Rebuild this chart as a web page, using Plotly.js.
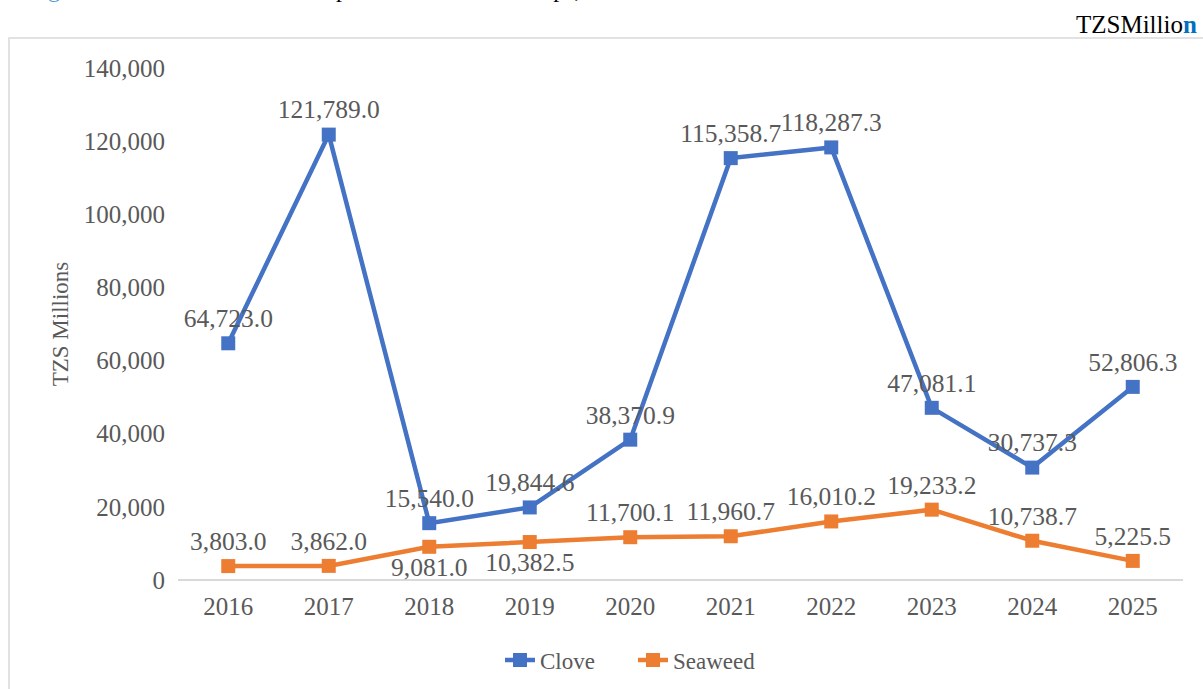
<!DOCTYPE html>
<html>
<head>
<meta charset="utf-8">
<script src="https://cdn.plot.ly/plotly-3.0.1.min.js"></script>
<style>html,body{margin:0;padding:0;background:#fff;}#chart{width:1203px;height:689px;}</style>
</head>
<body>
<div id="chart"></div>
<script>
const years = ['2016','2017','2018','2019','2020','2021','2022','2023','2024','2025'];
const clove = [64723.0, 121789.0, 15540.0, 19844.6, 38370.9, 115358.7, 118287.3, 47081.1, 30737.3, 52806.3];
const seaweed = [3803.0, 3862.0, 9081.0, 10382.5, 11700.1, 11960.7, 16010.2, 19233.2, 10738.7, 5225.5];
const clovePos = ['top center','top center','top center','top center','top center','top center','top center','top center','top center','top center'];
const seaweedPos = ['top center','top center','bottom center','bottom center','top center','top center','top center','top center','top center','top center'];

const fmt = v => v.toLocaleString('en-US', {minimumFractionDigits:1, maximumFractionDigits:1});
const F = 'Liberation Serif, Times New Roman, serif';
const grey = '#595959';

const traces = [
  {x: years, y: clove, name: 'Clove', type: 'scatter', mode: 'lines+markers+text',
   line: {color: '#4472C4', width: 4.5}, marker: {symbol: 'square', size: 14, color: '#4472C4'},
   text: clove.map(fmt), textposition: clovePos, textfont: {family: F, size: 25.5, color: grey}, cliponaxis: false},
  {x: years, y: seaweed, name: 'Seaweed', type: 'scatter', mode: 'lines+markers+text',
   line: {color: '#ED7D31', width: 4.5}, marker: {symbol: 'square', size: 14, color: '#ED7D31'},
   text: seaweed.map(fmt), textposition: seaweedPos, textfont: {family: F, size: 25.5, color: grey}, cliponaxis: false}
];

const layout = {
  width: 1203, height: 689,
  margin: {l: 178, r: 20, t: 68, b: 109, autoexpand: false},
  paper_bgcolor: '#fff', plot_bgcolor: '#fff',
  font: {family: F, color: grey},
  showlegend: true,
  legend: {orientation: 'h', x: (633-178)/1005, xanchor: 'center', y: (580-660)/512, yanchor: 'middle',
           entrywidth: 88, font: {family: F, size: 23, color: grey}},
  xaxis: {type: 'category', range: [-0.5, 9.5], showgrid: false, zeroline: false, showline: false, automargin: false,
          ticks: '', ticklabelstandoff: 9, tickfont: {family: F, size: 25, color: grey}},
  yaxis: {range: [0, 140000], dtick: 20000, tickformat: ',d', showgrid: false, automargin: false,
          zeroline: true, zerolinecolor: '#d9d9d9', zerolinewidth: 1.5, showline: false,
          ticks: '', ticklabelstandoff: 12, tickfont: {family: F, size: 25, color: grey},
          title: {text: 'TZS Millions', font: {family: F, size: 23, color: grey}, standoff: 8}},
  shapes: [
    {type: 'rect', xref: 'paper', yref: 'paper', x0: (9-178)/1005, x1: (1215-178)/1005,
     y0: (580-700)/512, y1: (580-38)/512, line: {color: '#d9d9d9', width: 1.5}, fillcolor: 'rgba(0,0,0,0)', layer: 'below'}
  ],
  annotations: [
    {xref: 'paper', yref: 'paper', x: (1074-178)/1005, y: (580-24)/512, xanchor: 'left', yanchor: 'middle',
     text: 'TZSMillio<b><span style="color:#0070C0">n</span></b>', showarrow: false,
     font: {family: F, size: 25, color: '#000'}},
    {xref: 'paper', yref: 'paper', x: (26-178)/1005, y: (580+11)/512, xanchor: 'left', yanchor: 'middle',
     text: 'Figure 4.3.5:', showarrow: false,
     font: {family: F, size: 24, color: '#5B9BD5'}},
    {xref: 'paper', yref: 'paper', x: (180-178)/1005, y: (580+11)/512, xanchor: 'left', yanchor: 'middle',
     text: 'The value of Export of Main Cash Crops, 2016-2025', showarrow: false,
     font: {family: F, size: 24, color: '#000'}}
  ]
};

Plotly.newPlot('chart', traces, layout, {displayModeBar: false, staticPlot: true});
</script>
</body>
</html>
